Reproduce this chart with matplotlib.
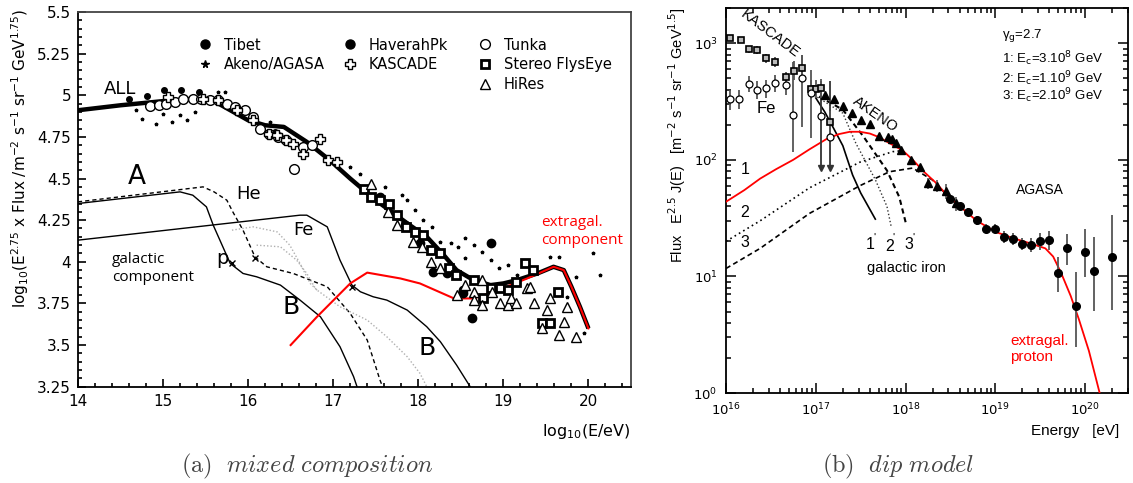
import numpy as np
import matplotlib
matplotlib.use("Agg")
import matplotlib.pyplot as plt
from matplotlib.lines import Line2D
from matplotlib.ticker import MultipleLocator, FixedLocator, LogLocator, NullFormatter, FuncFormatter

# ---------------- Left panel data (log10 E/eV , log10 flux*E^2.75) ----------------
all_x = [14.0, 14.5, 15.0, 15.44, 15.6, 16.0, 16.2, 16.42, 16.69, 16.96, 17.2, 17.5, 17.9, 18.1, 18.3, 18.45, 18.65, 18.85, 19.0, 19.16, 19.4, 19.59, 19.71, 19.8, 19.9, 20.0]
all_y = [4.91, 4.94, 4.965, 4.98, 4.965, 4.85, 4.82, 4.81, 4.72, 4.61, 4.50, 4.37, 4.22, 4.15, 4.04, 3.95, 3.89, 3.86, 3.87, 3.89, 3.93, 3.97, 3.95, 3.85, 3.73, 3.60]

exg_x = [16.5, 16.81, 17.2, 17.4, 17.79, 18.02, 18.42, 18.65, 18.89, 19.28, 19.59, 19.71, 19.8, 19.9, 20.0]
exg_y = [3.50, 3.67, 3.87, 3.935, 3.90, 3.87, 3.78, 3.78, 3.82, 3.90, 3.97, 3.95, 3.85, 3.73, 3.60]

p_x = [14.0, 15.2, 15.35, 15.51, 15.59, 15.79, 15.94, 16.10, 16.38, 16.61, 16.85, 17.08, 17.24, 17.28]
p_y = [4.35, 4.42, 4.40, 4.33, 4.22, 3.99, 3.93, 3.91, 3.86, 3.77, 3.67, 3.49, 3.31, 3.25]

he_x = [14.0, 15.47, 15.6, 15.75, 15.82, 15.94, 16.08, 16.22, 16.53, 16.93, 17.2, 17.40, 17.55, 17.58]
he_y = [4.36, 4.45, 4.42, 4.37, 4.30, 4.19, 4.03, 3.97, 3.93, 3.85, 3.69, 3.53, 3.29, 3.25]

fe_x = [14.0, 16.61, 16.69, 16.93, 17.08, 17.22, 17.32, 17.47, 17.63, 17.87, 18.1, 18.26, 18.45, 18.61]
fe_y = [4.13, 4.28, 4.28, 4.21, 4.01, 3.86, 3.82, 3.79, 3.77, 3.71, 3.61, 3.52, 3.38, 3.25]

cno_x = [15.81, 16.06, 16.34, 16.49, 16.61, 16.73, 16.81, 17.08, 17.40, 17.63, 17.87, 18.02, 18.1]
cno_y = [4.19, 4.21, 4.18, 4.10, 3.99, 3.87, 3.83, 3.73, 3.65, 3.55, 3.43, 3.33, 3.25]
mg_x = [16.10, 16.38, 16.57, 16.69, 16.79, 16.81]
mg_y = [4.10, 4.09, 4.01, 3.93, 3.84, 3.83]

knee_x = [15.81, 16.08, 17.22]
knee_y = [3.99, 4.02, 3.85]

tibet_x = [14.60, 14.81, 15.01, 15.21, 15.42, 16.32]
tibet_y = [4.98, 4.995, 5.03, 5.03, 5.02, 4.78]

haverah_x = [17.55, 17.84, 18.02, 18.17, 18.34, 18.53, 18.53, 18.63, 18.86]
haverah_y = [4.39, 4.22, 4.11, 3.94, 3.93, 3.83, 3.81, 3.66, 4.11]

akeno_x = [14.68, 14.75, 14.92, 15.0, 15.1, 15.2, 15.28, 15.38, 15.65, 15.73, 16.26, 17.2, 17.31, 17.61, 17.81, 17.87, 17.96, 18.06, 18.16,
           18.26, 18.38, 18.47, 18.55, 18.55, 18.65, 18.75, 18.86, 18.95, 19.05, 19.16, 19.55, 19.65, 19.75, 19.85, 19.95, 20.05, 20.14]
akeno_y = [4.91, 4.86, 4.83, 4.89, 4.84, 4.88, 4.85, 4.90, 5.02, 5.02, 4.84, 4.57, 4.53, 4.45, 4.40, 4.37, 4.31, 4.25, 4.21,
           4.12, 4.11, 4.09, 4.14, 4.02, 4.10, 4.06, 4.01, 3.96, 3.98, 3.92, 4.03, 4.03, 3.79, 3.91, 3.57, 4.05, 3.92]

tunka_x = [14.85, 14.95, 15.04, 15.14, 15.24, 15.35, 15.45, 15.55, 15.65, 15.75, 15.85, 15.96, 16.06, 16.14, 16.24, 16.35, 16.45, 16.65, 16.75, 16.54]
tunka_y = [4.935, 4.94, 4.95, 4.96, 4.98, 4.98, 4.98, 4.97, 4.97, 4.95, 4.93, 4.91, 4.87, 4.80, 4.77, 4.75, 4.73, 4.69, 4.70, 4.56]

kascade_x = [15.06, 15.47, 15.65, 15.87, 16.06, 16.25, 16.34, 16.44, 16.53, 16.65, 16.85, 16.94, 17.05]
kascade_y = [4.99, 4.98, 4.97, 4.91, 4.85, 4.77, 4.76, 4.73, 4.71, 4.65, 4.74, 4.61, 4.60]

flyseye_x = [17.36, 17.44, 17.55, 17.66, 17.75, 17.85, 17.96, 18.06, 18.15, 18.26, 18.36, 18.44, 18.65, 18.76, 18.86, 18.96, 19.05, 19.15, 19.25, 19.35, 19.45, 19.55, 19.64]
flyseye_y = [4.44, 4.39, 4.37, 4.35, 4.28, 4.21, 4.18, 4.16, 4.07, 4.05, 3.96, 3.92, 3.89, 3.78, 3.84, 3.84, 3.83, 3.88, 3.99, 3.95, 3.63, 3.63, 3.82]

hires_x = [17.44, 17.65, 17.75, 17.94, 18.04, 18.15, 18.25, 18.45, 18.55, 18.65, 18.65, 18.75, 18.75, 18.87, 18.96, 19.05, 19.09, 19.15,
           19.28, 19.31, 19.36, 19.46, 19.51, 19.55, 19.65, 19.71, 19.75, 19.85]
hires_y = [4.47, 4.30, 4.22, 4.12, 4.09, 4.00, 3.96, 3.80, 3.86, 3.82, 3.77, 3.89, 3.74, 3.82, 3.75, 3.74, 3.78, 3.75,
           3.84, 3.85, 3.75, 3.60, 3.71, 3.78, 3.56, 3.64, 3.73, 3.55]

# ---------------- Right panel data (E in eV, flux E^2.5 J(E)) ----------------
red_E = [1e16, 1.6e16, 2.4e16, 3.6e16, 5.6e16, 8.5e16, 1.32e17, 1.8e17, 2.4e17, 3.1e17, 4.0e17, 5.0e17, 6.5e17, 9.3e17, 1.2e18, 1.6e18, 2.2e18, 2.8e18, 4.0e18, 6.2e18, 1.02e19, 1.6e19, 2.4e19, 3.6e19, 4.4e19, 5.4e19, 6.9e19, 8.5e19, 1.1e20, 1.45e20, 1.6e20]
red_F = [43.7, 55, 69, 83, 100, 123, 151, 166, 174, 174, 168, 157, 140, 120, 100, 79, 63, 51, 40, 30, 24, 21.2, 19.3, 17.4, 14.8, 10.7, 6.8, 4.3, 2.3, 1.0, 0.75]

c2_E = [1e16, 2.4e16, 8.5e16, 3.1e17, 7.2e17, 9.3e17]
c2_F = [20, 30, 57.5, 95.5, 117.5, 120]
c3_E = [1e16, 2.4e16, 8.5e16, 3.1e17, 6.6e17, 1.2e18, 2.0e18, 2.8e18]
c3_F = [11.7, 17.4, 34.7, 60, 79, 85, 67, 51]

fe1_E = [1.0e17, 1.26e17, 1.58e17, 2.0e17, 2.57e17, 3.16e17, 4.6e17]
fe1_F = [339, 257, 186, 132, 74, 52, 31]
fe2_E = [8.9e16, 2.0e17, 2.8e17, 4.6e17, 6.2e17, 6.9e17]
fe2_F = [372, 251, 138, 67.6, 39.8, 26.9]
fe3_E = [8.9e16, 2.0e17, 3.4e17, 6.2e17, 8.5e17, 1.02e18]
fe3_F = [380, 269, 158, 81, 48, 27.5]

kas_E = [1.1e16, 1.45e16, 1.78e16, 2.24e16, 2.8e16, 3.55e16, 4.6e16, 5.75e16, 7.1e16, 8.9e16, 1.0e17, 1.15e17, 1.45e17]
kas_F = [1112, 1072, 885, 871, 741, 684, 515, 581, 608, 402, 407, 410, 212]
kas_lo = [1060, 1020, 830, 810, 680, 620, 460, 480, 470, 330, 340, 340, 170]
kas_hi = [1170, 1130, 940, 940, 810, 760, 570, 700, 800, 480, 480, 490, 260]

fe_E = [1.1e16, 1.41e16, 1.78e16, 2.24e16, 2.8e16, 3.55e16, 4.6e16, 5.6e16, 7.1e16, 8.9e16]
fe_F = [331, 332, 447, 398, 410, 453, 438, 242, 501, 376]
fe_lo = [270, 275, 380, 330, 340, 380, 360, 117, 190, 155]
fe_hi = [398, 400, 520, 470, 480, 530, 520, 692, 794, 589]
feul_E = [1.15e17, 1.45e17]
feul_F = [237, 158]
feul_top = [470, 470]
feul_bot = [85, 85]

akeno_E = [1.26e17, 1.58e17, 2.0e17, 2.5e17, 3.16e17, 4.0e17, 5.0e17, 6.3e17, 7.1e17, 7.9e17, 8.9e17, 1.15e18, 1.45e18, 1.78e18, 2.24e18, 2.8e18, 3.6e18]
akeno_F = [360, 331, 288, 251, 219, 204, 160, 158, 151, 139, 121, 100, 86, 63, 60, 54.5, 42.4]
akeno_err = [8, 8, 8, 8, 7, 7, 6, 6, 6, 6, 5, 5, 5, 7, 7, 8, 6]

agasa_E = [3.16e18, 4.0e18, 5.0e18, 6.3e18, 7.9e18, 1.0e19, 1.26e19, 1.58e19, 2.0e19, 2.5e19, 3.16e19, 4.0e19, 5.0e19, 6.3e19, 7.9e19, 1.0e20, 1.26e20, 2.0e20]
agasa_F = [45.7, 40, 35.5, 30.2, 25.7, 25.7, 21.9, 20.9, 19.1, 18.6, 20.0, 20.4, 10.7, 17.4, 5.6, 16.2, 11.2, 14.8]
agasa_lo = [43, 37.5, 33, 27.5, 23.5, 23.5, 19.5, 18.6, 17.0, 16.2, 17.0, 16.9, 7.4, 12.6, 2.5, 9.8, 5.1, 5.2]
agasa_hi = [48.5, 42.5, 38.5, 33, 28, 28, 24.5, 23.5, 21.5, 21.4, 23.4, 24.6, 14.8, 22.9, 11.0, 25.7, 21.9, 33.9]

# ---------------- Figure ----------------
plt.rcParams['font.family'] = ['DejaVu Sans']
fig = plt.figure(figsize=(11.33, 4.83), dpi=100)

ax1 = fig.add_axes([0.0688, 0.1994, 0.4881, 0.7757])
ax1.set_xlim(14, 20.5)
ax1.set_ylim(3.25, 5.5)

ax1.plot(p_x, p_y, color='k', lw=1.0)
ax1.plot(fe_x, fe_y, color='k', lw=1.0)
ax1.plot(he_x, he_y, color='k', lw=1.0, ls=(0, (3, 2.2)))
ax1.plot(cno_x, cno_y, color='#b0b0b0', lw=1.0, ls=(0, (1, 1.5)))
ax1.plot(mg_x, mg_y, color='#b0b0b0', lw=1.0, ls=(0, (1, 1.5)))
ax1.plot(knee_x, knee_y, ls='none', marker='x', color='k', ms=5, mew=1.0)
ax1.plot(all_x, all_y, color='k', lw=3.2, solid_capstyle='butt', zorder=3)
ax1.plot(exg_x, exg_y, color='#ff0000', lw=1.5, zorder=4)

ax1.plot(akeno_x, akeno_y, ls='none', marker='*', color='k', ms=2.5, zorder=5)
ax1.plot(tibet_x, tibet_y, ls='none', marker='o', color='k', ms=4.0, zorder=5)
ax1.plot(haverah_x, haverah_y, ls='none', marker='o', color='k', ms=6.0, zorder=5)
ax1.plot(tunka_x, tunka_y, ls='none', marker='o', mfc='white', mec='k', mew=1.0, ms=7, zorder=5)
ax1.plot(kascade_x, kascade_y, ls='none', marker='P', mfc='white', mec='k', mew=1.0, ms=7, zorder=6)
ax1.plot(flyseye_x, flyseye_y, ls='none', marker='s', mfc='white', mec='k', mew=2.0, ms=5.5, zorder=6)
ax1.plot(hires_x, hires_y, ls='none', marker='^', mfc='white', mec='k', mew=1.0, ms=7.5, zorder=6)

ax1.xaxis.set_major_locator(FixedLocator([14, 15, 16, 17, 18, 19, 20]))
ax1.xaxis.set_minor_locator(MultipleLocator(0.2))
ax1.yaxis.set_major_locator(MultipleLocator(0.25))
ax1.yaxis.set_minor_locator(MultipleLocator(0.05))
ax1.yaxis.set_major_formatter(FuncFormatter(lambda v, p: ('%g' % v)))
ax1.tick_params(which='both', direction='in', top=False, right=False, labelsize=11, width=1.2)
ax1.tick_params(which='major', length=6, pad=5)
ax1.tick_params(which='minor', length=3)
for s in ax1.spines.values():
    s.set_linewidth(1.3)
for s in ['top', 'right']:
    ax1.spines[s].set_color('#444444')

# labels in left panel
ax1.text(14.49, 5.04, 'ALL', fontsize=13, ha='center', va='center')
ax1.text(14.69, 4.51, 'A', fontsize=19, ha='center', va='center')
ax1.text(16.0, 4.41, 'He', fontsize=13, ha='center', va='center')
ax1.text(16.65, 4.19, 'Fe', fontsize=13, ha='center', va='center')
ax1.text(15.70, 4.02, 'p', fontsize=14, ha='center', va='center')
ax1.text(16.51, 3.73, 'B', fontsize=18, ha='center', va='center')
ax1.text(18.10, 3.48, 'B', fontsize=18, ha='center', va='center')
ax1.text(14.40, 3.96, 'galactic\ncomponent', fontsize=11, family='Open Sans', ha='left', va='center', linespacing=1.25)
ax1.text(19.44, 4.18, 'extragal.\ncomponent', fontsize=11, family='Open Sans', color='#ff0000', ha='left', va='center', linespacing=1.25)

# legend (three columns)
h_tibet = Line2D([], [], ls='none', marker='o', color='k', ms=6.5)
h_akeno = Line2D([], [], ls='none', marker='*', color='k', ms=5.5)
h_hav = Line2D([], [], ls='none', marker='o', color='k', ms=6.5)
h_kas = Line2D([], [], ls='none', marker='P', mfc='white', mec='k', ms=7)
h_tunka = Line2D([], [], ls='none', marker='o', mfc='white', mec='k', ms=7)
h_fly = Line2D([], [], ls='none', marker='s', mfc='white', mec='k', mew=2.0, ms=5.5)
h_hires = Line2D([], [], ls='none', marker='^', mfc='white', mec='k', ms=7.5)
legkw = dict(loc='upper left', frameon=False, fontsize=10.5, handlelength=1.0, handletextpad=0.8,
             labelspacing=0.32, borderpad=0, borderaxespad=0, numpoints=1)
leg1 = ax1.legend([h_tibet, h_akeno], ['Tibet', 'Akeno/AGASA'], bbox_to_anchor=(0.217, 0.932), **legkw)
ax1.add_artist(leg1)
leg2 = ax1.legend([h_hav, h_kas], ['HaverahPk', 'KASCADE'], bbox_to_anchor=(0.479, 0.932), **legkw)
ax1.add_artist(leg2)
leg3 = ax1.legend([h_tunka, h_fly, h_hires], ['Tunka', 'Stereo FlysEye', 'HiRes'], bbox_to_anchor=(0.723, 0.932), **legkw)

fig.text(0.018, 0.672, r'log$_{10}$(E$^{2.75}$ x Flux /m$^{-2}$ s$^{-1}$ sr$^{-1}$ GeV$^{1.75}$)',
         rotation=90, fontsize=11, ha='center', va='center')
fig.text(0.557, 0.106, r'log$_{10}$(E/eV)', fontsize=11.5, ha='right', va='center')

# ---------------- Right panel ----------------
RF = 'Liberation Sans'
ax2 = fig.add_axes([0.6408, 0.1863, 0.3548, 0.7969])
ax2.set_xscale('log')
ax2.set_yscale('log')
ax2.set_xlim(1e16, 3e20)
ax2.set_ylim(1, 2000)

ax2.plot(c2_E, c2_F, color='k', lw=1.2, ls=(0, (1, 2)))
ax2.plot(c3_E, c3_F, color='k', lw=1.2, ls=(0, (3, 2)))
ax2.plot(fe1_E, fe1_F, color='k', lw=1.2)
ax2.plot(fe2_E, fe2_F, color='#333333', lw=1.0, ls=(0, (1, 1.6)))
ax2.plot(fe3_E, fe3_F, color='k', lw=1.5, ls=(0, (2.5, 1.8)))
ax2.plot(red_E, red_F, color='#ff0000', lw=1.3, zorder=4)

ebc = '#555555'
kas_err = [np.array(kas_F) - np.array(kas_lo), np.array(kas_hi) - np.array(kas_F)]
ax2.errorbar(kas_E, kas_F, yerr=kas_err, fmt='s', ms=4.5, mfc='#bbbbbb', mec='k', mew=1.2,
             ecolor=ebc, elinewidth=1.3, capsize=0, zorder=5)
fe_err = [np.array(fe_F) - np.array(fe_lo), np.array(fe_hi) - np.array(fe_F)]
ax2.errorbar(fe_E, fe_F, yerr=fe_err, fmt='o', ms=5, mfc='white', mec='k', mew=0.9,
             ecolor=ebc, elinewidth=1.3, capsize=0, zorder=5)
ax2.vlines(feul_E, feul_bot, feul_top, color='#333333', lw=1.3, zorder=4)
ax2.plot(feul_E, feul_bot, ls='none', marker='v', color='#333333', ms=4, zorder=4)
ax2.plot(feul_E, feul_F, ls='none', marker='o', ms=5, mfc='white', mec='k', mew=0.9, zorder=6)
ax2.errorbar(akeno_E, akeno_F, yerr=akeno_err, fmt='^', ms=5.5, color='k',
             ecolor=ebc, elinewidth=1.2, capsize=0, zorder=5)
ag_err = [np.array(agasa_F) - np.array(agasa_lo), np.array(agasa_hi) - np.array(agasa_F)]
ax2.errorbar(agasa_E, agasa_F, yerr=ag_err, fmt='o', ms=5.5, color='k',
             ecolor=ebc, elinewidth=1.3, capsize=0, zorder=5)

ax2.xaxis.set_major_locator(LogLocator(base=10, numticks=10))
ax2.xaxis.set_minor_locator(LogLocator(base=10, subs=np.arange(2, 10), numticks=20))
ax2.xaxis.set_minor_formatter(NullFormatter())
ax2.yaxis.set_major_locator(LogLocator(base=10, numticks=10))
ax2.yaxis.set_minor_locator(LogLocator(base=10, subs=np.arange(2, 10), numticks=20))
ax2.yaxis.set_minor_formatter(NullFormatter())
ax2.tick_params(which='both', direction='in', top=True, right=True, labelsize=9.5, width=1.1)
ax2.tick_params(which='major', length=7, pad=6)
ax2.tick_params(which='minor', length=3.5)
for s in ax2.spines.values():
    s.set_linewidth(1.3)

ax2.text(3.1e16, 1210, 'KASCADE', family=RF, fontsize=10.5, rotation=-37, ha='center', va='center', rotation_mode='anchor')
ax2.text(4.6e17, 245, 'AKENO', family=RF, fontsize=10.5, rotation=-35, ha='center', va='center', rotation_mode='anchor')
ax2.text(2.8e16, 275, 'Fe', family=RF, fontsize=12, ha='center', va='center')
ax2.text(1.62e16, 82, '1', family=RF, fontsize=11.5, ha='center', va='center')
ax2.text(1.62e16, 35, '2', family=RF, fontsize=11.5, ha='center', va='center')
ax2.text(1.62e16, 19.4, '3', family=RF, fontsize=11.5, ha='center', va='center')
ax2.text(4.0e17, 18.6, "1", family=RF, fontsize=11.5, ha='center', va='center')
ax2.text(6.6e17, 18.2, "2", family=RF, fontsize=11.5, ha='center', va='center')
ax2.text(1.1e18, 18.6, "3", family=RF, fontsize=11.5, ha='center', va='center')
ax2.text(4.5e17, 21.5, "'", family=RF, fontsize=8, ha='center', va='center')
ax2.text(7.4e17, 21.5, "'", family=RF, fontsize=8, ha='center', va='center')
ax2.text(1.23e18, 21.5, "'", family=RF, fontsize=8, ha='center', va='center')
ax2.text(1.02e18, 11.8, 'galactic iron', family=RF, fontsize=10.5, ha='center', va='center')
ax2.text(3.1e19, 55, 'AGASA', family=RF, fontsize=10, ha='center', va='center')
ax2.text(1.45e19, 2.4, 'extragal.\nproton', family=RF, fontsize=11, color='#ff0000', ha='left', va='center', linespacing=1.15)
ax2.text(1.2e19, 1170, r'γ$_{\rm g}$=2.7', family=RF, fontsize=9.5, ha='left', va='center')
ax2.text(1.2e19, 740, r'1: E$_{\rm c}$=3.10$^{8}$ GeV', family=RF, fontsize=9.5, ha='left', va='center')
ax2.text(1.2e19, 500, r'2: E$_{\rm c}$=1.10$^{9}$ GeV', family=RF, fontsize=9.5, ha='left', va='center')
ax2.text(1.2e19, 358, r'3: E$_{\rm c}$=2.10$^{9}$ GeV', family=RF, fontsize=9.5, ha='left', va='center')

fig.text(0.598, 0.72, r'Flux   E$^{2.5}$ J(E)   [m$^{-2}$ s$^{-1}$ sr$^{-1}$ GeV$^{1.5}$]', family=RF,
         rotation=90, fontsize=10.5, ha='center', va='center')
fig.text(0.988, 0.108, 'Energy   [eV]', family=RF, fontsize=11, ha='right', va='center')

# captions
fig.text(0.271, 0.035, r'$\mathrm{(a)}\ \ \mathit{mixed\ composition}$', math_fontfamily='cm',
         fontsize=17.5, color='#444444', ha='center', va='center')
fig.text(0.793, 0.035, r'$\mathrm{(b)}\ \ \mathit{dip\ model}$', math_fontfamily='cm',
         fontsize=17.5, color='#444444', ha='center', va='center')

fig.savefig('out.png', dpi=100)
